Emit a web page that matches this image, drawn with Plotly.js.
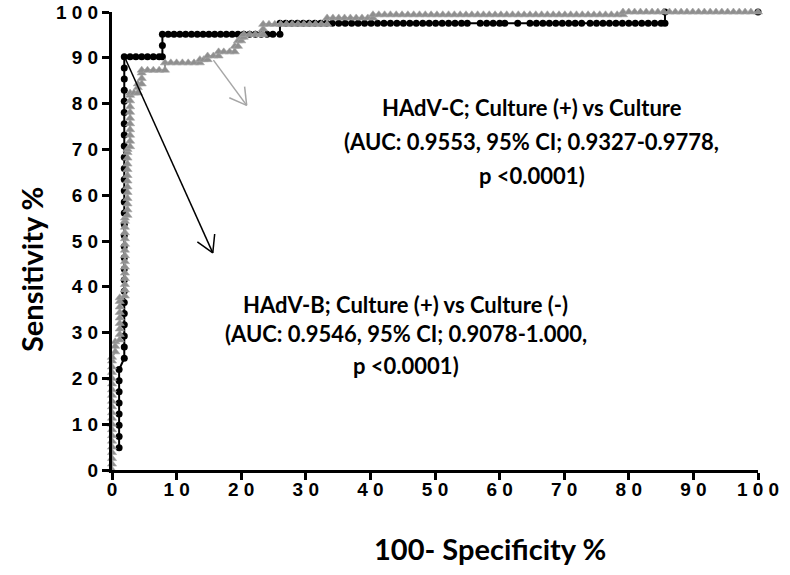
<!DOCTYPE html>
<html><head><meta charset="utf-8">
<script src="https://cdn.plot.ly/plotly-3.0.1.min.js"></script>
<style>html,body{margin:0;padding:0;background:#fff}#chart{width:790px;height:575px}</style>
</head><body><div id="chart"></div>
<script>
// HAdV-B: 100-Specificity % (x) and Sensitivity % (y)
const hadvB_x = [
 1.1,1.1,1.1,1.1,1.1,1.1,1.1,1.1,
 1.9,1.9,1.9,1.9,1.9,1.9,1.9,1.9,1.9,1.9,1.9,1.9,1.9,1.9,1.9,1.9,1.9,1.9,1.9,1.9,1.9,1.9,1.9,1.9,1.9,1.9,1.9,1.9,
 2.8,3.7,4.6,5.5,6.4,7.3,7.8,
 7.8,7.8,
 8.7,9.6,10.5,11.4,12.3,13.2,14.1,15.0,15.9,16.8,17.7,18.6,19.5,20.4,21.3,22.2,23.1,24.0,24.9,26.0,
 26.0,26.9,27.8,28.7,29.6,30.5,31.4,32.3,33.2,34.1,35.1,36.1,37.1,38.1,39.1,40.1,41.1,42.1,43.1,44.1,45.1,46.1,47.1,48.1,49.1,50.1,51.1,52.1,53.1,54.1,55.0,
 57.0,58.0,59.0,60.0,60.8,62.8,64.7,65.7,66.7,67.7,68.7,69.7,70.7,71.7,72.7,74.0,75.0,76.0,77.0,78.0,79.0,80.0,81.0,82.0,83.0,84.0,85.0,85.6,
 85.6,100
];
const hadvB_y = [
 4.88,7.32,9.76,12.20,14.63,17.07,19.51,21.95,
 24.39,26.83,29.27,31.71,34.15,36.59,39.02,41.46,43.90,46.34,48.78,51.22,53.66,56.10,58.54,60.98,63.41,65.85,68.29,70.73,73.17,75.61,78.05,80.49,82.93,85.37,87.80,90.24,
 90.24,90.24,90.24,90.24,90.24,90.24,90.24,
 92.68,95.12,
 95.12,95.12,95.12,95.12,95.12,95.12,95.12,95.12,95.12,95.12,95.12,95.12,95.12,95.12,95.12,95.12,95.12,95.12,95.12,95.12,
 97.56,97.56,97.56,97.56,97.56,97.56,97.56,97.56,97.56,97.56,97.56,97.56,97.56,97.56,97.56,97.56,97.56,97.56,97.56,97.56,97.56,97.56,97.56,97.56,97.56,97.56,97.56,97.56,97.56,97.56,97.56,
 97.56,97.56,97.56,97.56,97.56,97.56,97.56,97.56,97.56,97.56,97.56,97.56,97.56,97.56,97.56,97.56,97.56,97.56,97.56,97.56,97.56,97.56,97.56,97.56,97.56,97.56,97.56,97.56,
 100,100
];
// HAdV-C
const hadvC_x = [
 0,0,0,0,0,0,0,0,0,0,0,0,0,0,0,0,0,0,0,0,0,
 0.5,0.5,0.5,
 1.2,1.2,1.2,1.2,1.2,1.2,1.2,1.2,1.2,
 2.0,2.0,2.0,2.0,2.0,2.0,2.0,2.0,2.0,2.0,2.0,2.0,2.0,2.0,2.0,
 2.4,2.4,2.4,2.4,2.4,2.4,2.4,2.4,2.4,2.4,2.4,2.4,2.4,
 2.8,2.8,2.8,2.8,2.8,2.8,2.8,2.8,2.8,2.8,2.8,
 3.4,4.0,4.0,4.0,4.6,4.6,4.6,4.6,
 5.5,6.4,7.3,8.2,
 8.2,9.1,10.0,10.9,11.8,12.7,13.6,
 13.6,14.2,14.8,14.8,15.7,16.5,16.5,17.3,18.2,19.0,
 19.0,19.5,19.5,20.0,20.0,20.4,20.4,21.3,22.2,23.0,23.4,
 23.4,23.4,24.3,25.2,26.1,27.0,27.9,28.8,29.7,30.6,31.5,32.4,33.3,
 33.3,34.2,35.1,36.0,36.9,37.8,38.7,39.6,40.4,
 40.4,41.3,42.2,43.1,44.0,44.9,45.8,46.7,47.6,48.5,49.4,50.3,51.2,52.1,53.0,53.9,54.8,55.7,56.6,57.5,58.4,59.3,60.2,61.1,62.0,62.9,63.8,64.7,65.6,66.5,67.4,68.3,69.2,70.1,71.0,71.9,72.8,73.7,74.6,75.5,76.4,77.3,78.2,79.1,
 79.1,80.0,80.9,81.8,82.7,83.6,84.5,85.4,86.3,87.2,88.1,89.0,89.9,90.8,91.7,92.6,93.5,94.4,95.3,96.2,97.1,98.0,98.9,100
];
const hadvC_y = [
 0,1.3,2.5,3.8,5.0,6.3,7.5,8.8,10.0,11.3,12.5,13.8,15.0,16.3,17.5,18.8,20.0,21.3,22.5,23.8,24.6,
 25.8,27.0,28.0,
 28.4,29.6,30.8,32.0,33.2,34.4,35.6,36.8,37.6,
 38.0,39.3,40.5,41.8,43.0,44.3,45.5,46.8,48.0,49.3,50.5,51.8,53.0,54.3,55.0,
 55.6,56.8,58.1,59.3,60.6,61.8,63.1,64.3,65.6,66.8,68.1,69.3,70.0,
 70.6,71.8,73.1,74.3,75.6,76.8,78.1,79.3,80.6,81.8,82.3,
 82.3,82.3,83.5,84.3,84.3,85.5,86.7,87.3,
 87.3,87.3,87.3,87.3,
 88.9,88.9,88.9,88.9,88.9,88.9,88.9,
 89.6,89.6,89.6,90.4,90.4,90.4,91.3,91.3,91.3,91.3,
 92.5,92.5,93.7,93.7,94.5,94.5,95.1,95.1,95.1,95.1,95.1,
 96.3,97.3,97.3,97.3,97.3,97.3,97.3,97.3,97.3,97.3,97.3,97.3,97.3,
 98.7,98.7,98.7,98.7,98.7,98.7,98.7,98.7,98.7,
 99.4,99.4,99.4,99.4,99.4,99.4,99.4,99.4,99.4,99.4,99.4,99.4,99.4,99.4,99.4,99.4,99.4,99.4,99.4,99.4,99.4,99.4,99.4,99.4,99.4,99.4,99.4,99.4,99.4,99.4,99.4,99.4,99.4,99.4,99.4,99.4,99.4,99.4,99.4,99.4,99.4,99.4,99.4,99.4,
 100,100,100,100,100,100,100,100,100,100,100,100,100,100,100,100,100,100,100,100,100,100,100,100
];
const tickVals = [0,10,20,30,40,50,60,70,80,90,100];
const tickText = ["0","1 0","2 0","3 0","4 0","5 0","6 0","7 0","8 0","9 0","1 0 0"];

const labelC = ["HAdV-C; Culture (+) vs Culture", "(AUC: 0.9553, 95% CI; 0.9327-0.9778,", "p <0.0001)"];
const labelB = ["HAdV-B; Culture (+) vs Culture (-)", "(AUC: 0.9546, 95% CI; 0.9078-1.000,", "p <0.0001)"];

const M = {l:112, r:32, t:12, b:105};
const W = 790, H = 575;
const pxX = (W - M.l - M.r) / 100, pxY = (H - M.t - M.b) / 100;

function arrowShapes(x0, y0, x1, y1, color) {
  const dx = (x0 - x1) * pxX, dy = (y0 - y1) * pxY;
  const L = Math.hypot(dx, dy), ux = dx / L, uy = dy / L;
  const arm = 19, ang = 30 * Math.PI / 180;
  const shapes = [{type:'line', xref:'x', yref:'y', x0:x0, y0:y0, x1:x1, y1:y1, line:{color:color, width:1.5}, layer:'above'}];
  [ang, -ang].forEach(a => {
    const rx = ux * Math.cos(a) - uy * Math.sin(a);
    const ry = ux * Math.sin(a) + uy * Math.cos(a);
    shapes.push({type:'line', xref:'x', yref:'y', x0:x1, y0:y1,
      x1: x1 + rx * arm / pxX, y1: y1 + ry * arm / pxY,
      line:{color:color, width:1.5}, layer:'above'});
  });
  return shapes;
}

const traceB = {x:hadvB_x, y:hadvB_y, type:'scatter', mode:'lines+markers', cliponaxis:false,
  line:{color:'#000', width:2}, marker:{symbol:'circle', size:7, color:'#000'}};
const traceC = {x:hadvC_x, y:hadvC_y, type:'scatter', mode:'lines+markers', cliponaxis:false,
  line:{color:'#8c8c8c', width:2}, marker:{symbol:'triangle-up', size:8, color:'#8f8f8f', line:{color:'#a5a5a5', width:0.6}}};

const tfont = {family:'Liberation Sans, Arial, sans-serif', size:19, color:'#000', weight:'bold'};
const afont = {family:'Lato, sans-serif', size:22, color:'#000', weight:'bold'};
const titleFont = {family:'Lato, sans-serif', size:29, color:'#000', weight:'bold'};

function ann(text, x, y, font) {
  return {text:text, x:x, y:y, xref:'x', yref:'y', showarrow:false, xanchor:'center', yanchor:'middle', font:font};
}
const annotations = [
  ann(labelC[0], 65.0, 79.2, afont), ann(labelC[1], 65.0, 71.8, afont), ann(labelC[2], 65.0, 64.4, afont),
  ann(labelB[0], 45.5, 36.2, afont), ann(labelB[1], 45.5, 29.7, afont), ann(labelB[2], 45.5, 22.9, afont),
  {text:'Sensitivity %', xref:'paper', yref:'paper', x:(31 - M.l) / (W - M.l - M.r), y:(H - M.b - 270) / (H - M.t - M.b),
   textangle:-90, showarrow:false, xanchor:'center', yanchor:'middle', font:titleFont},
  {text:'100- Specificity %', xref:'paper', yref:'paper', x:(490 - M.l) / (W - M.l - M.r), y:(H - M.b - 548) / (H - M.t - M.b),
   showarrow:false, xanchor:'center', yanchor:'middle', font:titleFont}
];

const shapes = [].concat(
  arrowShapes(2.0, 90.0, 15.6, 47.4, '#000'),
  arrowShapes(15.7, 89.5, 20.85, 79.6, '#a6a6a6')
);

const axisBase = {range:[0,100], tickvals:tickVals, ticktext:tickText, showline:true, linewidth:3, linecolor:'#000',
  ticks:'outside', ticklen:7, tickwidth:3, tickcolor:'#000', showgrid:false, zeroline:false, tickfont:tfont, fixedrange:true};

const layout = {
  width:W, height:H, margin:M, paper_bgcolor:'#fff', plot_bgcolor:'#fff', showlegend:false,
  xaxis:Object.assign({}, axisBase, {ticklabelstandoff:-7}),
  yaxis:Object.assign({}, axisBase),
  annotations:annotations, shapes:shapes
};
Plotly.newPlot('chart', [traceB, traceC], layout, {displayModeBar:false, staticPlot:true});
</script></body></html>
